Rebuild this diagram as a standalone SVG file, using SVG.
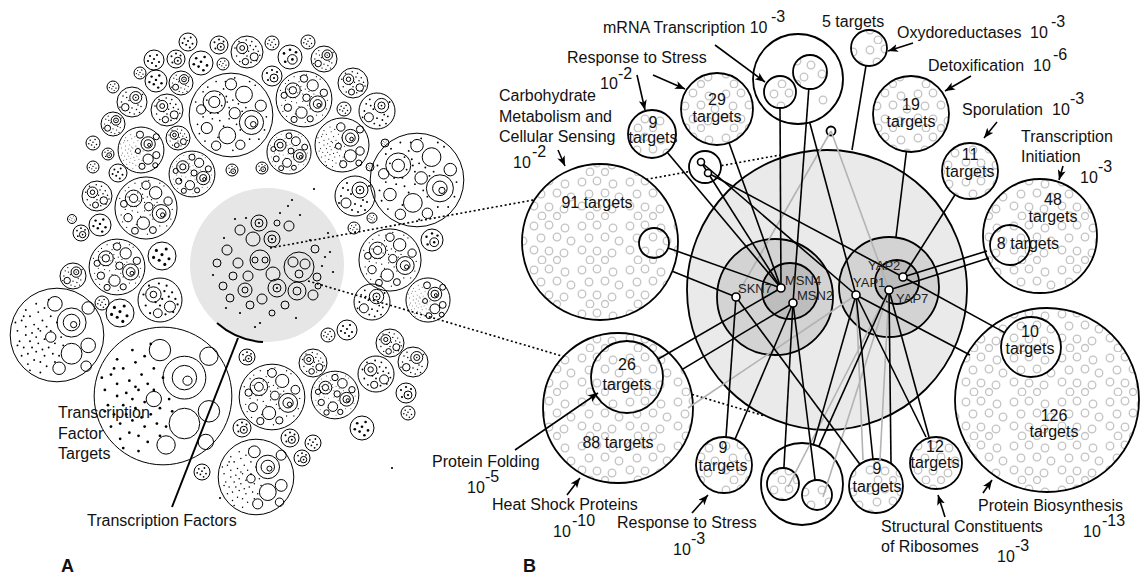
<svg xmlns="http://www.w3.org/2000/svg" xmlns:xlink="http://www.w3.org/1999/xlink" width="1141" height="575" viewBox="0 0 1141 575">
<style>
text{font-family:"Liberation Sans",Arial,sans-serif;font-size:16px;fill:#111}
.c{text-anchor:middle}
.tf{font-size:13px;fill:#222}
.pl{font-weight:bold;font-size:18px}
.ao{fill:none;stroke:#000;stroke-width:1;vector-effect:non-scaling-stroke}
.ad{fill:#000}
.tg{fill:url(#rg);stroke:#000;stroke-width:1.8}
.tw{fill:#fff;stroke:#000;stroke-width:1.8}
.ed{stroke:#000;stroke-width:1.6;fill:none}
.eg{stroke:#b3b3b3;stroke-width:1.6;fill:none}
.dt{stroke:#000;stroke-width:1.6;stroke-dasharray:2 2.5;fill:none}
.ar{stroke:#000;stroke-width:1.6;fill:none;marker-end:url(#ah)}
.nd{fill:#fff;stroke:#000;stroke-width:1.6}
.gr{fill:none;stroke:#c4c4c4;stroke-width:1.3}
.ta{fill:none;stroke:#000;stroke-width:1}
</style>
<defs>
<marker id="ah" markerUnits="userSpaceOnUse" markerWidth="12" markerHeight="10" refX="10" refY="4" orient="auto"><path d="M0,0 L10,4 L0,8 L2.5,4 Z" fill="#000"/></marker>
<pattern id="rg" patternUnits="userSpaceOnUse" width="48" height="44">
<rect width="48" height="44" fill="#fff"/>
<circle class="gr" cx="6" cy="6" r="3.8"/><circle class="gr" cx="21" cy="5" r="3.8"/><circle class="gr" cx="37" cy="8" r="3.8"/>
<circle class="gr" cx="13" cy="18" r="3.8"/><circle class="gr" cx="29" cy="17" r="3.8"/><circle class="gr" cx="43" cy="21" r="3.8"/>
<circle class="gr" cx="6" cy="30" r="3.8"/><circle class="gr" cx="21" cy="31" r="3.8"/><circle class="gr" cx="36" cy="33" r="3.8"/>
<circle class="gr" cx="14" cy="40" r="3.8"/><circle class="gr" cx="29" cy="40" r="3.5"/>
</pattern>
<g id="s1a"><circle class="ao" r="10"/><g class="ad"><circle cx="-4" cy="-4" r="1.1"/><circle cx="3" cy="-5" r="1.1"/><circle cx="5" cy="2" r="1.1"/><circle cx="-2" cy="3" r="1.1"/><circle cx="2" cy="6" r="1.1"/><circle cx="-6" cy="1" r="1.1"/><circle cx="0" cy="-1" r="1.1"/></g></g>
<g id="s1b"><circle class="ao" r="10"/><circle class="ao" cx="2" cy="2" r="4"/><g class="ad"><circle cx="-5" cy="-3" r="1.1"/><circle cx="0" cy="-6" r="1.1"/><circle cx="5" cy="-4" r="1.1"/><circle cx="-4" cy="4" r="1.1"/><circle cx="2" cy="2" r="1.1"/></g></g>
<g id="s2a"><circle class="ao" r="20"/><circle class="ao" cx="-6" cy="-5" r="7"/><circle class="ao" cx="-6" cy="-5" r="3"/><circle class="ao" cx="9" cy="6" r="5"/><circle class="ao" cx="-2" cy="12" r="4"/>
<g class="ad"><circle cx="6" cy="-13" r="1"/><circle cx="11" cy="-7" r="1"/><circle cx="-13" cy="5" r="1"/><circle cx="2" cy="-1" r="1"/><circle cx="5" cy="13" r="1"/><circle cx="-15" cy="-5" r="1"/><circle cx="14" cy="-1" r="1"/><circle cx="-1" cy="-15" r="1"/><circle cx="-9" cy="12" r="1"/><circle cx="12" cy="11" r="1"/><circle cx="0" cy="5" r="1"/><circle cx="-10" cy="-13" r="1"/><circle cx="16" cy="4" r="1"/><circle cx="4" cy="-8" r="1"/><circle cx="-4" cy="2" r="1"/><circle cx="8" cy="-3" r="1"/></g></g>
<g id="s2b"><circle class="ao" r="20"/><circle class="ao" cx="5" cy="-6" r="8"/><circle class="ao" cx="5" cy="-6" r="4"/><circle class="ao" cx="-9" cy="7" r="5"/>
<g class="ad"><circle cx="-12" cy="-8" r="1"/><circle cx="-8" cy="-13" r="1"/><circle cx="-14" cy="0" r="1"/><circle cx="-4" cy="-2" r="1"/><circle cx="0" cy="8" r="1"/><circle cx="6" cy="10" r="1"/><circle cx="12" cy="6" r="1"/><circle cx="-3" cy="14" r="1"/><circle cx="3" cy="16" r="1"/><circle cx="14" cy="-10" r="1"/><circle cx="-16" cy="7" r="1"/><circle cx="8" cy="4" r="1"/><circle cx="-7" cy="-6" r="1"/><circle cx="10" cy="14" r="1"/><circle cx="5" cy="-6" r="1"/></g></g>
<g id="s3a"><circle class="ao" r="45"/><circle class="ao" cx="-18" cy="-14" r="12"/><circle class="ao" cx="-18" cy="-14" r="6"/><circle class="ao" cx="14" cy="-22" r="9"/><circle class="ao" cx="22" cy="8" r="13"/><circle class="ao" cx="22" cy="8" r="7"/><circle class="ao" cx="24" cy="10" r="3"/><circle class="ao" cx="-4" cy="22" r="9"/><circle class="ao" cx="-26" cy="14" r="6"/><circle class="ao" cx="4" cy="-2" r="6"/><circle class="ao" cx="0" cy="-33" r="6"/><circle class="ao" cx="32" cy="-10" r="6"/><circle class="ao" cx="10" cy="32" r="5"/><circle class="ao" cx="-32" cy="-6" r="5"/><circle class="ao" cx="-16" cy="33" r="5"/>
<g class="ad"><circle cx="-30" cy="-25" r="0.9"/><circle cx="-25" cy="-30" r="0.9"/><circle cx="-8" cy="-28" r="0.9"/><circle cx="-5" cy="-20" r="0.9"/><circle cx="2" cy="-16" r="0.9"/><circle cx="-10" cy="-10" r="0.9"/><circle cx="-2" cy="-8" r="0.9"/><circle cx="8" cy="-12" r="0.9"/><circle cx="-30" cy="2" r="0.9"/><circle cx="-20" cy="4" r="0.9"/><circle cx="-12" cy="6" r="0.9"/><circle cx="-8" cy="12" r="0.9"/><circle cx="6" cy="10" r="0.9"/><circle cx="10" cy="16" r="0.9"/><circle cx="2" cy="38" r="0.9"/><circle cx="-14" cy="24" r="0.9"/><circle cx="-36" cy="10" r="0.9"/><circle cx="-38" cy="-14" r="0.9"/><circle cx="30" cy="26" r="0.9"/><circle cx="36" cy="16" r="0.9"/><circle cx="26" cy="-32" r="0.9"/><circle cx="20" cy="-36" r="0.9"/><circle cx="-16" cy="-36" r="0.9"/><circle cx="12" cy="-4" r="0.9"/><circle cx="-2" cy="4" r="0.9"/><circle cx="-14" cy="-2" r="0.9"/><circle cx="16" cy="-8" r="0.9"/><circle cx="38" cy="2" r="0.9"/><circle cx="-28" cy="28" r="0.9"/><circle cx="-22" cy="-2" r="0.9"/><circle cx="4" cy="-40" r="0.9"/><circle cx="-4" cy="-14" r="0.9"/><circle cx="-12" cy="-22" r="0.9"/><circle cx="-26" cy="-16" r="0.9"/><circle cx="-6" cy="-36" r="0.9"/><circle cx="20" cy="26" r="0.9"/><circle cx="-34" cy="20" r="0.9"/></g></g>
<g id="s3b"><circle class="ao" r="45"/><circle class="ao" cx="14" cy="-12" r="14"/><circle class="ao" cx="14" cy="-12" r="8"/><circle class="ao" cx="16" cy="-10" r="3"/><circle class="ao" cx="14" cy="18" r="10"/><circle class="ao" cx="30" cy="10" r="7"/><circle class="ao" cx="-2" cy="-30" r="7"/><circle class="ao" cx="30" cy="-26" r="6"/><circle class="ao" cx="2" cy="32" r="6"/><circle class="ao" cx="-6" cy="2" r="5"/><circle class="ao" cx="28" cy="30" r="5"/>
<g class="ad"><circle cx="-38" cy="-4" r="0.9"/><circle cx="-36" cy="6" r="0.9"/><circle cx="-34" cy="-14" r="0.9"/><circle cx="-32" cy="12" r="0.9"/><circle cx="-30" cy="0" r="0.9"/><circle cx="-30" cy="-8" r="0.9"/><circle cx="-28" cy="18" r="0.9"/><circle cx="-26" cy="-18" r="0.9"/><circle cx="-26" cy="6" r="0.9"/><circle cx="-24" cy="-2" r="0.9"/><circle cx="-24" cy="12" r="0.9"/><circle cx="-22" cy="24" r="0.9"/><circle cx="-22" cy="-10" r="0.9"/><circle cx="-20" cy="2" r="0.9"/><circle cx="-20" cy="16" r="0.9"/><circle cx="-18" cy="-22" r="0.9"/><circle cx="-18" cy="8" r="0.9"/><circle cx="-16" cy="-4" r="0.9"/><circle cx="-16" cy="26" r="0.9"/><circle cx="-14" cy="14" r="0.9"/><circle cx="-14" cy="-14" r="0.9"/><circle cx="-12" cy="4" r="0.9"/><circle cx="-12" cy="20" r="0.9"/><circle cx="-10" cy="-8" r="0.9"/><circle cx="-10" cy="30" r="0.9"/><circle cx="-8" cy="12" r="0.9"/><circle cx="-6" cy="-18" r="0.9"/><circle cx="-4" cy="18" r="0.9"/><circle cx="-2" cy="8" r="0.9"/><circle cx="0" cy="-12" r="0.9"/><circle cx="2" cy="20" r="0.9"/><circle cx="-34" cy="20" r="0.9"/><circle cx="-28" cy="28" r="0.9"/><circle cx="-38" cy="10" r="0.9"/><circle cx="-20" cy="-30" r="0.9"/><circle cx="-12" cy="-26" r="0.9"/><circle cx="-6" cy="-4" r="0.9"/><circle cx="4" cy="2" r="0.9"/><circle cx="-40" cy="-12" r="0.9"/><circle cx="-26" cy="34" r="0.9"/><circle cx="6" cy="10" r="0.9"/><circle cx="-2" cy="26" r="0.9"/><circle cx="-16" cy="36" r="0.9"/><circle cx="-30" cy="-24" r="0.9"/><circle cx="-8" cy="-34" r="0.9"/><circle cx="-18" cy="-6" r="0.9"/><circle cx="-32" cy="-18" r="0.9"/></g></g>
</defs>
<rect width="1141" height="575" fill="#fff"/>

<g id="panelA">
<circle cx="267" cy="265" r="77" fill="#e6e6e6"/>
<use href="#s1a" transform="translate(188 42) scale(0.9)"/>
<use href="#s1b" transform="translate(219 45) scale(0.9)"/>
<use href="#s2a" transform="translate(247 52) scale(0.8)"/>
<use href="#s1a" transform="translate(272 43) scale(0.7)"/>
<use href="#s1a" transform="translate(308 42) scale(0.7)"/>
<use href="#s1b" transform="translate(290 57) scale(1.2)"/>
<use href="#s2b" transform="translate(324 59) scale(0.65)"/>
<use href="#s1a" transform="translate(154 60) scale(1)"/>
<use href="#s1b" transform="translate(176 59) scale(0.9)"/>
<use href="#s1a" transform="translate(201 63) scale(1.2)"/>
<use href="#s1a" transform="translate(223 64) scale(0.6)"/>
<use href="#s1a" transform="translate(140 73) scale(0.6)"/>
<use href="#s1a" transform="translate(156 81) scale(1.1)"/>
<use href="#s2b" transform="translate(181 83) scale(0.6)"/>
<use href="#s3a" transform="translate(231 115) scale(0.93)"/>
<use href="#s3a" transform="translate(304 99) scale(0.62)"/>
<use href="#s1b" transform="translate(272 76) scale(1)"/>
<use href="#s2a" transform="translate(353 83) scale(0.75)"/>
<use href="#s2b" transform="translate(377 111) scale(0.9)"/>
<use href="#s1a" transform="translate(344 109) scale(0.7)"/>
<use href="#s1a" transform="translate(113 87) scale(0.6)"/>
<use href="#s2b" transform="translate(132 102) scale(0.75)"/>
<use href="#s2a" transform="translate(167 110) scale(0.8)"/>
<use href="#s2b" transform="translate(113 124) scale(0.6)"/>
<use href="#s3b" transform="translate(141 150) scale(0.51)"/>
<use href="#s2a" transform="translate(178 138) scale(0.6)"/>
<use href="#s3a" transform="translate(192 174) scale(0.51)"/>
<use href="#s3a" transform="translate(289 152) scale(0.49)"/>
<use href="#s3b" transform="translate(342 145) scale(0.6)"/>
<use href="#s1a" transform="translate(93 143) scale(0.7)"/>
<use href="#s1b" transform="translate(108 154) scale(0.6)"/>
<use href="#s1a" transform="translate(93 167) scale(0.6)"/>
<use href="#s1a" transform="translate(118 173) scale(0.9)"/>
<use href="#s2a" transform="translate(97 196) scale(0.75)"/>
<use href="#s3a" transform="translate(146 208) scale(0.69)"/>
<use href="#s3a" transform="translate(417 180) scale(1.04)"/>
<use href="#s2b" transform="translate(355 196) scale(1)"/>
<use href="#s1a" transform="translate(72 219) scale(0.45)"/>
<use href="#s1b" transform="translate(81 233) scale(0.8)"/>
<use href="#s1a" transform="translate(100 225) scale(1.1)"/>
<use href="#s3a" transform="translate(117 267) scale(0.62)"/>
<use href="#s1a" transform="translate(162 256) scale(1.4)"/>
<use href="#s2b" transform="translate(73 276) scale(0.65)"/>
<use href="#s1b" transform="translate(232 170) scale(0.6)"/>
<use href="#s1b" transform="translate(262 168) scale(0.6)"/>
<use href="#s1a" transform="translate(372 218) scale(0.5)"/>
<use href="#s1a" transform="translate(354 228) scale(0.6)"/>
<use href="#s3a" transform="translate(390 260) scale(0.69)"/>
<use href="#s1a" transform="translate(385 143) scale(0.4)"/>
<use href="#s1a" transform="translate(370 167) scale(0.4)"/>
<use href="#s3b" transform="translate(57 335) scale(1.04)"/>
<use href="#s3b" transform="translate(163 396) scale(1.53)"/>
<use href="#s2a" transform="translate(160 300) scale(1.1)"/>
<use href="#s1a" transform="translate(120 313) scale(1.4)"/>
<use href="#s1a" transform="translate(102 303) scale(0.7)"/>
<use href="#s3b" transform="translate(256 477) scale(0.84)"/>
<use href="#s3a" transform="translate(272 397) scale(0.73)"/>
<use href="#s3a" transform="translate(335 395) scale(0.53)"/>
<use href="#s2a" transform="translate(376 374) scale(0.9)"/>
<use href="#s2b" transform="translate(372 302) scale(0.9)"/>
<use href="#s2a" transform="translate(313 363) scale(0.7)"/>
<use href="#s1a" transform="translate(362 428) scale(1.2)"/>
<use href="#s1b" transform="translate(290 438) scale(0.9)"/>
<use href="#s1a" transform="translate(313 443) scale(0.8)"/>
<use href="#s1b" transform="translate(302 458) scale(0.8)"/>
<use href="#s1b" transform="translate(242 428) scale(0.9)"/>
<use href="#s1a" transform="translate(202 472) scale(0.8)"/>
<use href="#s1a" transform="translate(408 413) scale(0.7)"/>
<use href="#s1b" transform="translate(406 393) scale(1)"/>
<use href="#s2a" transform="translate(390 343) scale(0.7)"/>
<use href="#s1a" transform="translate(347 330) scale(1)"/>
<use href="#s1a" transform="translate(328 335) scale(0.7)"/>
<use href="#s2b" transform="translate(413 362) scale(0.75)"/>
<use href="#s1b" transform="translate(247 357) scale(0.8)"/>
<use href="#s3b" transform="translate(428 300) scale(0.49)"/>
<use href="#s1b" transform="translate(432 240) scale(1.1)"/>
<g class="ta">
<circle cx="259" cy="223" r="8"/><circle cx="259" cy="223" r="4"/><circle cx="240" cy="230" r="5"/><circle cx="253" cy="239" r="7"/><circle cx="272" cy="239" r="8"/><circle cx="272" cy="239" r="4"/><circle cx="289" cy="226" r="5"/><circle cx="277" cy="223" r="3"/><circle cx="227" cy="250" r="5"/><circle cx="238" cy="263" r="5"/><circle cx="260" cy="260" r="10"/><circle cx="255" cy="260" r="3"/><circle cx="265" cy="260" r="3"/><circle cx="217" cy="263" r="4"/><circle cx="299" cy="267" r="15"/><circle cx="293" cy="262" r="5"/><circle cx="305" cy="264" r="5"/><circle cx="299" cy="274" r="4"/><circle cx="273" cy="274" r="7"/><circle cx="277" cy="288" r="9"/><circle cx="277" cy="288" r="4"/><circle cx="248" cy="276" r="5"/><circle cx="315" cy="249" r="4"/><circle cx="317" cy="277" r="4"/><circle cx="233" cy="276" r="4"/><circle cx="223" cy="286" r="4"/><circle cx="245" cy="290" r="7"/><circle cx="245" cy="290" r="3"/><circle cx="230" cy="298" r="4"/><circle cx="262" cy="299" r="5"/><circle cx="297" cy="291" r="9"/><circle cx="297" cy="291" r="4"/><circle cx="313" cy="295" r="5"/><circle cx="318" cy="286" r="3"/><circle cx="285" cy="305" r="4"/><circle cx="250" cy="305" r="4"/><circle cx="272" cy="313" r="3"/>
</g>
<g class="ad">
<circle cx="314" cy="189" r="1.1"/><circle cx="292" cy="200" r="1.1"/><circle cx="288" cy="206" r="1.1"/><circle cx="280" cy="213" r="1.1"/><circle cx="328" cy="233" r="1.1"/><circle cx="325" cy="257" r="1.1"/><circle cx="330" cy="252" r="1.1"/><circle cx="235" cy="219" r="1.1"/><circle cx="246" cy="218" r="1.1"/><circle cx="260" cy="323" r="1.1"/><circle cx="255" cy="327" r="1.1"/><circle cx="300" cy="215" r="1.1"/><circle cx="310" cy="240" r="1.1"/><circle cx="322" cy="266" r="1.1"/><circle cx="226" cy="308" r="1.1"/><circle cx="296" cy="318" r="1.1"/><circle cx="240" cy="313" r="1.1"/><circle cx="213" cy="275" r="1.1"/><circle cx="224" cy="238" r="1.1"/><circle cx="333" cy="272" r="1.1"/><circle cx="259" cy="223" r="1.1"/><circle cx="272" cy="239" r="1.1"/><circle cx="277" cy="288" r="1.1"/><circle cx="392" cy="468" r="1.1"/><circle cx="220" cy="498" r="1.1"/><circle cx="181" cy="180" r="1.1"/>
</g>
<path d="M217,323 A77,77 0 0 0 263,342" fill="none" stroke="#000" stroke-width="2"/>
<path d="M238,338 L172,507" fill="none" stroke="#000" stroke-width="2"/>
<text x="58" y="418">Transcription</text>
<text x="58" y="439">Factor</text>
<text x="58" y="459">Targets</text>
<text x="87" y="526">Transcription Factors</text>
<text class="pl" x="61" y="572">A</text>
</g>

<g id="tf-all"><circle cx="827" cy="290" r="140" fill="#eaeaea" stroke="#000" stroke-width="1.8"/></g>
<g id="tf-msn-group"><circle cx="775" cy="297" r="58" fill="#d3d3d3" stroke="#000" stroke-width="1.8"/><circle cx="790" cy="291" r="28" fill="#bdbdbd" stroke="#000" stroke-width="1.8"/></g>
<g id="tf-yap-group"><circle cx="889" cy="287" r="50" fill="#d3d3d3" stroke="#000" stroke-width="1.8"/><circle cx="897" cy="282" r="22" fill="#bdbdbd" stroke="#000" stroke-width="1.8"/></g>

<g id="zoom-lines">
<path class="dt" d="M270,248 L780,155"/>
<path class="dt" d="M308,281 L765,416"/>
</g>

<g id="t91"><circle class="tg" cx="600" cy="242" r="78"/><circle class="tg" cx="654" cy="243" r="15"/><text class="c" x="597" y="208">91 targets</text></g>
<g id="t88"><circle class="tg" cx="618" cy="408" r="75"/><text class="c" x="618" y="448">88 targets</text></g>
<g id="t26"><circle class="tg" cx="627" cy="377" r="36"/><text class="c" x="627" y="370">26</text><text class="c" x="627" y="390">targets</text></g>
<g id="t9a"><circle class="tg" cx="652" cy="134" r="24"/><text class="c" x="653" y="128">9</text><text class="c" x="653" y="143">targets</text></g>
<g id="t29"><circle class="tg" cx="717" cy="109" r="36"/><text class="c" x="717" y="105">29</text><text class="c" x="717" y="122">targets</text></g>
<g id="tpair"><circle class="tw" cx="705" cy="167" r="16"/></g>
<g id="tmrna"><circle class="tw" cx="798" cy="79" r="45"/><circle class="gr" cx="823" cy="100" r="3.8"/><circle class="tg" cx="780" cy="92" r="16"/><circle class="tg" cx="810" cy="72" r="17"/></g>
<g id="t5"><circle class="tg" cx="869" cy="48" r="18"/><text x="822" y="27">5 targets</text></g>
<g id="ttiny"><circle class="tw" cx="831" cy="131" r="4.5"/></g>
<g id="t19"><circle class="tg" cx="911" cy="114" r="38"/><text class="c" x="911" y="110">19</text><text class="c" x="911" y="127">targets</text></g>
<g id="t11"><circle class="tg" cx="970" cy="171" r="28"/><text class="c" x="970" y="160">11</text><text class="c" x="970" y="177">targets</text></g>
<g id="t48"><circle class="tg" cx="1040" cy="236" r="57"/><text class="c" x="1053" y="205">48</text><text class="c" x="1053" y="222">targets</text></g>
<g id="t8"><circle class="tg" cx="1010" cy="245" r="20"/><text class="c" x="1028" y="249">8 targets</text></g>
<g id="t126"><circle class="tg" cx="1047" cy="400" r="92"/><text class="c" x="1054" y="421">126</text><text class="c" x="1054" y="437">targets</text></g>
<g id="t10"><circle class="tg" cx="1031" cy="347" r="30"/><text class="c" x="1030" y="337">10</text><text class="c" x="1030" y="354">targets</text></g>
<g id="t9bl"><circle class="tg" cx="724" cy="465" r="28"/><text class="c" x="723" y="453">9</text><text class="c" x="723" y="471">targets</text></g>
<g id="tbot"><circle class="tw" cx="802" cy="484" r="41"/><circle class="tg" cx="783" cy="484" r="16"/><circle class="tg" cx="817" cy="495" r="15"/></g>
<g id="t9br"><circle class="tg" cx="876" cy="486" r="27"/><text class="c" x="877" y="474">9</text><text class="c" x="877" y="492">targets</text></g>
<g id="t12"><circle class="tg" cx="936" cy="463" r="26"/><text class="c" x="935" y="452">12</text><text class="c" x="935" y="468">targets</text></g>

<g id="connectors">
<g class="eg">
<path d="M688,408 L856,295"/>
<path d="M831,131 L889,290"/>
<path d="M831,131 L736,297"/>
<path d="M788,487 L889,290"/>
<path d="M823,497 L889,290"/>
<path d="M863,460 L856,295"/>
<path d="M880,460 L889,290"/>
</g>
<g class="ed">
<path d="M667.4,152.4 L781,288"/>
<path d="M729.1,142.9 L781,288"/>
<path d="M701,162 L781,288"/>
<path d="M701,162 L856,295"/>
<path d="M708,173 L903,277"/>
<path d="M780,108 L781,288"/>
<path d="M808.8,89 L793,303"/>
<path d="M809.7,122.5 L856,295"/>
<path d="M866,65.7 L852,150"/>
<path d="M906.4,151.7 L896,237"/>
<path d="M955,194.7 L903,277"/>
<path d="M987,251 L903,277"/>
<path d="M989,258 L889,290"/>
<path d="M1004.7,332.6 L903,277"/>
<path d="M970,355 L856,295"/>
<path d="M668.1,248 L781,288"/>
<path d="M672.3,271.2 L736,297"/>
<path d="M658.2,359 L781,288"/>
<path d="M682.3,369.4 L793,303"/>
<path d="M726,437.1 L736,297"/>
<path d="M735,439.2 L793,303"/>
<path d="M783.9,468 L793,303"/>
<path d="M815.1,480.1 L793,303"/>
<path d="M813.3,444.6 L856,295"/>
<path d="M818.8,446.6 L889,290"/>
<path d="M859.9,464.3 L736,297"/>
<path d="M873,459.5 L856,295"/>
<path d="M891,463.5 L889,290"/>
<path d="M926,437 L856,295"/>
<path d="M929,437 L889,290"/>
</g>
</g>

<g id="pair-nodes"><circle class="nd" cx="701" cy="162" r="3.5"/><circle class="nd" cx="708" cy="173" r="3.5"/></g>
<g id="SKN7"><circle class="nd" cx="736" cy="297" r="4"/><text class="tf" x="738" y="293">SKN7</text></g>
<g id="MSN4"><circle class="nd" cx="781" cy="288" r="4"/><text class="tf" x="785" y="285">MSN4</text></g>
<g id="MSN2"><circle class="nd" cx="793" cy="303" r="4"/><text class="tf" x="797" y="300">MSN2</text></g>
<g id="YAP1"><circle class="nd" cx="856" cy="295" r="4"/><text class="tf" x="853" y="287">YAP1</text></g>
<g id="YAP2"><circle class="nd" cx="903" cy="277" r="4"/><text class="tf" x="868" y="270">YAP2</text></g>
<g id="YAP7"><circle class="nd" cx="889" cy="290" r="4"/><text class="tf" x="896" y="303">YAP7</text></g>

<g id="label-arrows">
<path class="ar" d="M637,75 L645,110"/>
<path class="ar" d="M653,75 L685,89"/>
<path class="ar" d="M715,45 L765,82"/>
<path class="ar" d="M558,150 L565,166"/>
<path class="ar" d="M913,43 L888,51"/>
<path class="ar" d="M971,76 L945,91"/>
<path class="ar" d="M997,122 L984,138"/>
<path class="ar" d="M1063,166 L1059,180"/>
<path class="ar" d="M515,450 L598,393"/>
<path class="ar" d="M567,495 L580,478"/>
<path class="ar" d="M692,513 L708,495"/>
<path class="ar" d="M945,517 L938,495"/>
<path class="ar" d="M983,493 L992,480"/>
</g>

<g id="labels">
<text x="603" y="33">mRNA Transcription 10</text><text x="771" y="22">-3</text>
<text x="567" y="63">Response to Stress</text><text x="600" y="89">10</text><text x="618" y="79">-2</text>
<text x="499" y="101">Carbohydrate</text><text x="499" y="122">Metabolism and</text><text x="499" y="142">Cellular Sensing</text><text x="513" y="168">10</text><text x="532" y="157">-2</text>
<text x="897" y="38">Oxydoreductases</text><text x="1030" y="38">10</text><text x="1051" y="27">-3</text>
<text x="928" y="71">Detoxification</text><text x="1033" y="71">10</text><text x="1053" y="60">-6</text>
<text x="962" y="115">Sporulation</text><text x="1052" y="115">10</text><text x="1070" y="104">-3</text>
<text x="1021" y="142">Transcription</text><text x="1021" y="162">Initiation</text><text x="1080" y="183">10</text><text x="1098" y="172">-3</text>
<text x="432" y="467">Protein Folding</text><text x="467" y="493">10</text><text x="485" y="482">-5</text>
<text x="492" y="510">Heat Shock Proteins</text><text x="553" y="537">10</text><text x="572" y="526">-10</text>
<text x="617" y="528">Response to Stress</text><text x="673" y="555">10</text><text x="691" y="544">-3</text>
<text x="881" y="532">Structural Constituents</text><text x="881" y="552">of Ribosomes</text><text x="997" y="562">10</text><text x="1015" y="551">-3</text>
<text x="978" y="511">Protein Biosynthesis</text><text x="1083" y="537">10</text><text x="1102" y="526">-13</text>
<text class="pl" x="523" y="572">B</text>
</g>
</svg>
